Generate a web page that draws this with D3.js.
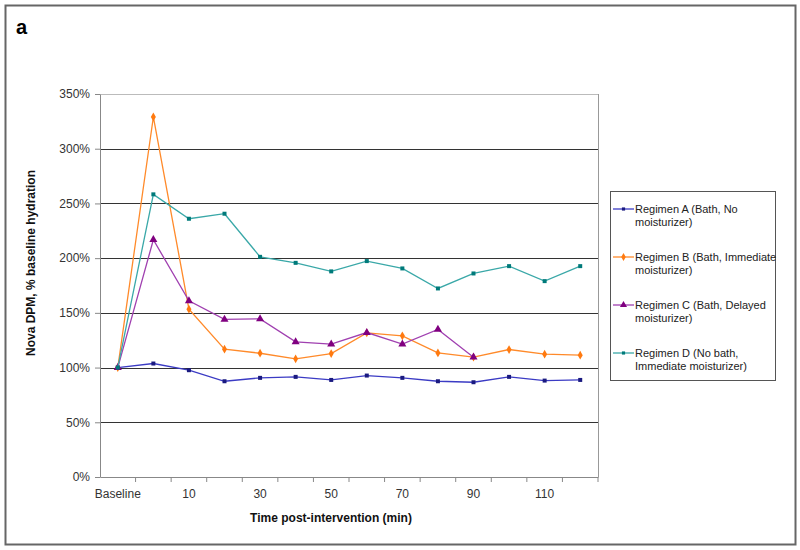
<!DOCTYPE html>
<html><head><meta charset="utf-8">
<script src="https://cdn.jsdelivr.net/npm/d3@7"></script>
<style>body{margin:0;background:#fff}svg{display:block;font-family:"Liberation Sans",Arial,sans-serif}</style>
</head><body><svg id="c" width="800" height="550"></svg>
<script>
const categories = ["Baseline","0","10","20","30","40","50","60","70","80","90","100","110","120"];
const tickLabels = ["Baseline","10","30","50","70","90","110"];
const yTicks = [0,50,100,150,200,250,300,350];
const regimenA = [100,103.7,97.6,87.5,90.6,91.5,88.7,92.7,90.6,87.5,86.6,91.5,88.1,88.7];
const regimenB = [100,329,153.4,116.8,113.1,108,112.8,131.7,129,113.4,109.5,116.5,112.2,111.3];
const regimenC = [100,216.8,161,144,144.5,123.5,121.4,132,121.4,134.8,109.5,null,null,null];
const regimenD = [100,258.3,236,240.6,201.2,195.7,187.9,197.3,190.6,172.3,186,192.7,179,192.7];
const seriesNames = ["Regimen A (Bath, No|moisturizer)","Regimen B (Bath, Immediate|moisturizer)","Regimen C (Bath, Delayed|moisturizer)","Regimen D (No bath,|Immediate moisturizer)"];

const series = [
  {name:seriesNames[0], values:regimenA, line:"#3b3bc4", mark:"#1a1a80", shape:"square"},
  {name:seriesNames[1], values:regimenB, line:"#ff8a2a", mark:"#ff7a10", shape:"diamond"},
  {name:seriesNames[2], values:regimenC, line:"#a040b0", mark:"#800080", shape:"triangle"},
  {name:seriesNames[3], values:regimenD, line:"#3aa8a8", mark:"#007a7a", shape:"square"}
];

const svg = d3.select("#c");
const L=100, R=598, T=94, B=477;
svg.append("rect").attr("x",5.5).attr("y",5.5).attr("width",790).attr("height",539)
  .attr("fill","#fff").attr("stroke","#666").attr("stroke-width",2);
svg.append("text").attr("x",16).attr("y",34).attr("font-size",20).attr("font-weight","bold").text("a");

const x = d3.scaleBand().domain(categories).range([L,R]);
const y = d3.scaleLinear().domain([0,350]).range([B,T]);

svg.append("line").attr("x1",L).attr("x2",R).attr("y1",T+0.5).attr("y2",T+0.5).attr("stroke","#bbb");
svg.append("line").attr("x1",R+0.5).attr("x2",R+0.5).attr("y1",T).attr("y2",B).attr("stroke","#999");
svg.append("g").selectAll("line").data(yTicks.filter(v=>v>0&&v<350)).join("line")
  .attr("x1",L).attr("x2",R).attr("y1",d=>Math.round(y(d))+0.5).attr("y2",d=>Math.round(y(d))+0.5)
  .attr("stroke","#333").attr("stroke-width",1);

const yAxis = d3.axisLeft(y).tickValues(yTicks).tickFormat(d=>d+"%").tickSize(5).tickSizeOuter(0);
const gy = svg.append("g").attr("transform",`translate(${L},0)`).call(yAxis);
gy.select(".domain").attr("stroke","#888");
gy.selectAll(".tick line").attr("stroke","#888");
gy.selectAll("text").attr("font-size",12).attr("fill","#333").attr("font-family","Liberation Sans, Arial").attr("dx",-2);

const gx = svg.append("g").attr("transform",`translate(0,${B})`)
  .call(d3.axisBottom(x).tickValues(categories).tickFormat(d=>tickLabels.includes(d)?d:"").tickSize(0).tickPadding(12));
gx.select(".domain").attr("stroke","#888");
gx.selectAll("text").attr("font-size",12).attr("fill","#333").attr("font-family","Liberation Sans, Arial");
svg.append("g").selectAll("line").data(categories.slice(1).concat(["__end"])).join("line")
  .attr("x1",d=>d==="__end"?R:x(d)).attr("x2",d=>d==="__end"?R:x(d))
  .attr("y1",B).attr("y2",B+5).attr("stroke","#888");

svg.append("text").attr("x",331).attr("y",522).attr("text-anchor","middle")
  .attr("font-size",12).attr("font-weight","bold").attr("fill","#111").text("Time post-intervention (min)");
svg.append("text").attr("transform","translate(35,263) rotate(-90)").attr("text-anchor","middle")
  .attr("font-size",12).attr("font-weight","bold").attr("fill","#111").text("Nova DPM, % baseline hydration");

function sym(shape, size){
  const t = shape==="diamond"?d3.symbolDiamond:shape==="triangle"?d3.symbolTriangle:d3.symbolSquare;
  return d3.symbol().type(t).size(size)();
}

const line = d3.line().defined(d=>d!=null).x((d,i)=>x(categories[i])+x.bandwidth()/2).y(d=>y(d));
series.forEach(s=>{
  svg.append("path").attr("d",line(s.values)).attr("fill","none").attr("stroke",s.line).attr("stroke-width",1.3);
  svg.append("g").selectAll("path").data(s.values.map((v,i)=>({v,i})).filter(d=>d.v!=null)).join("path")
    .attr("transform",d=>`translate(${x(categories[d.i])+x.bandwidth()/2},${y(d.v)})`)
    .attr("d",sym(s.shape, s.shape==="triangle"?28:s.shape==="diamond"?22:16)).attr("fill",s.mark);
});

const lg = svg.append("g");
lg.append("rect").attr("x",610.5).attr("y",191.5).attr("width",165).attr("height",189).attr("fill","#fff").attr("stroke","#555");
series.forEach((s,i)=>{
  const yy = 213 + i*48;
  const g = lg.append("g");
  g.append("line").attr("x1",613).attr("x2",634).attr("y1",yy-4).attr("y2",yy-4).attr("stroke",s.line).attr("stroke-width",1.3);
  g.append("path").attr("transform",`translate(623.5,${yy-4})`).attr("d",sym(s.shape, s.shape==="triangle"?22:s.shape==="diamond"?18:10)).attr("fill",s.mark);
  s.name.split("|").forEach((t,j)=>{
    g.append("text").attr("x",635).attr("y",yy+j*13).attr("font-size",11).attr("fill","#222").text(t);
  });
});
</script></body></html>
